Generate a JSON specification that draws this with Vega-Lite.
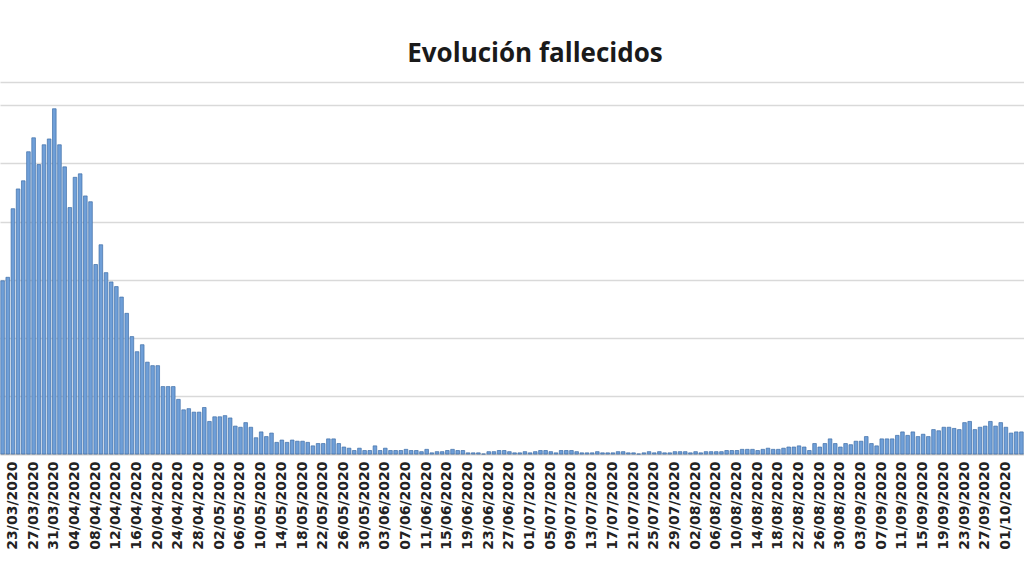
{
  "$schema": "https://vega.github.io/schema/vega-lite/v6.json",
  "width": 1024,
  "height": 372,
  "autosize": {"type": "none"},
  "padding": {"left": 0, "right": 0, "top": 82, "bottom": 122},
  "background": "white",
  "title": {"text": "Evolución fallecidos", "font": "Open Sans", "fontSize": 26, "fontWeight": "bold", "color": "#1a1a1a", "anchor": "middle", "dx": 23, "offset": 15},
  "data": {"values": [
    {"fecha": "21/03/2020", "fallecidos": 149}, {"fecha": "22/03/2020", "fallecidos": 152}, {"fecha": "23/03/2020", "fallecidos": 211}, {"fecha": "24/03/2020", "fallecidos": 228}, {"fecha": "25/03/2020", "fallecidos": 235}, {"fecha": "26/03/2020", "fallecidos": 260}, {"fecha": "27/03/2020", "fallecidos": 272}, {"fecha": "28/03/2020", "fallecidos": 249}, {"fecha": "29/03/2020", "fallecidos": 266}, {"fecha": "30/03/2020", "fallecidos": 271}, {"fecha": "31/03/2020", "fallecidos": 297},
    {"fecha": "01/04/2020", "fallecidos": 266}, {"fecha": "02/04/2020", "fallecidos": 247}, {"fecha": "03/04/2020", "fallecidos": 212}, {"fecha": "04/04/2020", "fallecidos": 238}, {"fecha": "05/04/2020", "fallecidos": 241}, {"fecha": "06/04/2020", "fallecidos": 222}, {"fecha": "07/04/2020", "fallecidos": 217}, {"fecha": "08/04/2020", "fallecidos": 163}, {"fecha": "09/04/2020", "fallecidos": 180}, {"fecha": "10/04/2020", "fallecidos": 156}, {"fecha": "11/04/2020", "fallecidos": 148}, {"fecha": "12/04/2020", "fallecidos": 144}, {"fecha": "13/04/2020", "fallecidos": 135}, {"fecha": "14/04/2020", "fallecidos": 121}, {"fecha": "15/04/2020", "fallecidos": 101}, {"fecha": "16/04/2020", "fallecidos": 88}, {"fecha": "17/04/2020", "fallecidos": 94}, {"fecha": "18/04/2020", "fallecidos": 79}, {"fecha": "19/04/2020", "fallecidos": 76}, {"fecha": "20/04/2020", "fallecidos": 76}, {"fecha": "21/04/2020", "fallecidos": 58}, {"fecha": "22/04/2020", "fallecidos": 58}, {"fecha": "23/04/2020", "fallecidos": 58}, {"fecha": "24/04/2020", "fallecidos": 47}, {"fecha": "25/04/2020", "fallecidos": 38}, {"fecha": "26/04/2020", "fallecidos": 39}, {"fecha": "27/04/2020", "fallecidos": 36}, {"fecha": "28/04/2020", "fallecidos": 36}, {"fecha": "29/04/2020", "fallecidos": 40}, {"fecha": "30/04/2020", "fallecidos": 28},
    {"fecha": "01/05/2020", "fallecidos": 32}, {"fecha": "02/05/2020", "fallecidos": 32}, {"fecha": "03/05/2020", "fallecidos": 33}, {"fecha": "04/05/2020", "fallecidos": 31}, {"fecha": "05/05/2020", "fallecidos": 24}, {"fecha": "06/05/2020", "fallecidos": 23}, {"fecha": "07/05/2020", "fallecidos": 27}, {"fecha": "08/05/2020", "fallecidos": 23}, {"fecha": "09/05/2020", "fallecidos": 14}, {"fecha": "10/05/2020", "fallecidos": 19}, {"fecha": "11/05/2020", "fallecidos": 15}, {"fecha": "12/05/2020", "fallecidos": 18}, {"fecha": "13/05/2020", "fallecidos": 10}, {"fecha": "14/05/2020", "fallecidos": 12}, {"fecha": "15/05/2020", "fallecidos": 10}, {"fecha": "16/05/2020", "fallecidos": 12}, {"fecha": "17/05/2020", "fallecidos": 11}, {"fecha": "18/05/2020", "fallecidos": 11}, {"fecha": "19/05/2020", "fallecidos": 10}, {"fecha": "20/05/2020", "fallecidos": 7}, {"fecha": "21/05/2020", "fallecidos": 9}, {"fecha": "22/05/2020", "fallecidos": 9}, {"fecha": "23/05/2020", "fallecidos": 13}, {"fecha": "24/05/2020", "fallecidos": 13}, {"fecha": "25/05/2020", "fallecidos": 9}, {"fecha": "26/05/2020", "fallecidos": 6}, {"fecha": "27/05/2020", "fallecidos": 5}, {"fecha": "28/05/2020", "fallecidos": 3}, {"fecha": "29/05/2020", "fallecidos": 5}, {"fecha": "30/05/2020", "fallecidos": 3}, {"fecha": "31/05/2020", "fallecidos": 3},
    {"fecha": "01/06/2020", "fallecidos": 7}, {"fecha": "02/06/2020", "fallecidos": 3}, {"fecha": "03/06/2020", "fallecidos": 5}, {"fecha": "04/06/2020", "fallecidos": 3}, {"fecha": "05/06/2020", "fallecidos": 3}, {"fecha": "06/06/2020", "fallecidos": 3}, {"fecha": "07/06/2020", "fallecidos": 4}, {"fecha": "08/06/2020", "fallecidos": 3}, {"fecha": "09/06/2020", "fallecidos": 3}, {"fecha": "10/06/2020", "fallecidos": 2}, {"fecha": "11/06/2020", "fallecidos": 4}, {"fecha": "12/06/2020", "fallecidos": 1}, {"fecha": "13/06/2020", "fallecidos": 2}, {"fecha": "14/06/2020", "fallecidos": 2}, {"fecha": "15/06/2020", "fallecidos": 3}, {"fecha": "16/06/2020", "fallecidos": 4}, {"fecha": "17/06/2020", "fallecidos": 3}, {"fecha": "18/06/2020", "fallecidos": 3}, {"fecha": "19/06/2020", "fallecidos": 1}, {"fecha": "20/06/2020", "fallecidos": 1}, {"fecha": "21/06/2020", "fallecidos": 1}, {"fecha": "22/06/2020", "fallecidos": 0}, {"fecha": "23/06/2020", "fallecidos": 2}, {"fecha": "24/06/2020", "fallecidos": 2}, {"fecha": "25/06/2020", "fallecidos": 3}, {"fecha": "26/06/2020", "fallecidos": 3}, {"fecha": "27/06/2020", "fallecidos": 2}, {"fecha": "28/06/2020", "fallecidos": 1}, {"fecha": "29/06/2020", "fallecidos": 1}, {"fecha": "30/06/2020", "fallecidos": 2},
    {"fecha": "01/07/2020", "fallecidos": 1}, {"fecha": "02/07/2020", "fallecidos": 2}, {"fecha": "03/07/2020", "fallecidos": 3}, {"fecha": "04/07/2020", "fallecidos": 3}, {"fecha": "05/07/2020", "fallecidos": 2}, {"fecha": "06/07/2020", "fallecidos": 1}, {"fecha": "07/07/2020", "fallecidos": 3}, {"fecha": "08/07/2020", "fallecidos": 3}, {"fecha": "09/07/2020", "fallecidos": 3}, {"fecha": "10/07/2020", "fallecidos": 2}, {"fecha": "11/07/2020", "fallecidos": 1}, {"fecha": "12/07/2020", "fallecidos": 1}, {"fecha": "13/07/2020", "fallecidos": 1}, {"fecha": "14/07/2020", "fallecidos": 2}, {"fecha": "15/07/2020", "fallecidos": 1}, {"fecha": "16/07/2020", "fallecidos": 1}, {"fecha": "17/07/2020", "fallecidos": 1}, {"fecha": "18/07/2020", "fallecidos": 2}, {"fecha": "19/07/2020", "fallecidos": 2}, {"fecha": "20/07/2020", "fallecidos": 1}, {"fecha": "21/07/2020", "fallecidos": 1}, {"fecha": "22/07/2020", "fallecidos": 0}, {"fecha": "23/07/2020", "fallecidos": 1}, {"fecha": "24/07/2020", "fallecidos": 2}, {"fecha": "25/07/2020", "fallecidos": 1}, {"fecha": "26/07/2020", "fallecidos": 2}, {"fecha": "27/07/2020", "fallecidos": 1}, {"fecha": "28/07/2020", "fallecidos": 1}, {"fecha": "29/07/2020", "fallecidos": 2}, {"fecha": "30/07/2020", "fallecidos": 2}, {"fecha": "31/07/2020", "fallecidos": 2},
    {"fecha": "01/08/2020", "fallecidos": 1}, {"fecha": "02/08/2020", "fallecidos": 2}, {"fecha": "03/08/2020", "fallecidos": 1}, {"fecha": "04/08/2020", "fallecidos": 2}, {"fecha": "05/08/2020", "fallecidos": 2}, {"fecha": "06/08/2020", "fallecidos": 2}, {"fecha": "07/08/2020", "fallecidos": 2}, {"fecha": "08/08/2020", "fallecidos": 3}, {"fecha": "09/08/2020", "fallecidos": 3}, {"fecha": "10/08/2020", "fallecidos": 3}, {"fecha": "11/08/2020", "fallecidos": 4}, {"fecha": "12/08/2020", "fallecidos": 4}, {"fecha": "13/08/2020", "fallecidos": 4}, {"fecha": "14/08/2020", "fallecidos": 3}, {"fecha": "15/08/2020", "fallecidos": 4}, {"fecha": "16/08/2020", "fallecidos": 5}, {"fecha": "17/08/2020", "fallecidos": 4}, {"fecha": "18/08/2020", "fallecidos": 4}, {"fecha": "19/08/2020", "fallecidos": 5}, {"fecha": "20/08/2020", "fallecidos": 6}, {"fecha": "21/08/2020", "fallecidos": 6}, {"fecha": "22/08/2020", "fallecidos": 7}, {"fecha": "23/08/2020", "fallecidos": 6}, {"fecha": "24/08/2020", "fallecidos": 3}, {"fecha": "25/08/2020", "fallecidos": 9}, {"fecha": "26/08/2020", "fallecidos": 6}, {"fecha": "27/08/2020", "fallecidos": 9}, {"fecha": "28/08/2020", "fallecidos": 13}, {"fecha": "29/08/2020", "fallecidos": 9}, {"fecha": "30/08/2020", "fallecidos": 6}, {"fecha": "31/08/2020", "fallecidos": 9},
    {"fecha": "01/09/2020", "fallecidos": 8}, {"fecha": "02/09/2020", "fallecidos": 11}, {"fecha": "03/09/2020", "fallecidos": 11}, {"fecha": "04/09/2020", "fallecidos": 15}, {"fecha": "05/09/2020", "fallecidos": 9}, {"fecha": "06/09/2020", "fallecidos": 7}, {"fecha": "07/09/2020", "fallecidos": 13}, {"fecha": "08/09/2020", "fallecidos": 13}, {"fecha": "09/09/2020", "fallecidos": 13}, {"fecha": "10/09/2020", "fallecidos": 16}, {"fecha": "11/09/2020", "fallecidos": 19}, {"fecha": "12/09/2020", "fallecidos": 16}, {"fecha": "13/09/2020", "fallecidos": 19}, {"fecha": "14/09/2020", "fallecidos": 15}, {"fecha": "15/09/2020", "fallecidos": 17}, {"fecha": "16/09/2020", "fallecidos": 15}, {"fecha": "17/09/2020", "fallecidos": 21}, {"fecha": "18/09/2020", "fallecidos": 20}, {"fecha": "19/09/2020", "fallecidos": 23}, {"fecha": "20/09/2020", "fallecidos": 23}, {"fecha": "21/09/2020", "fallecidos": 22}, {"fecha": "22/09/2020", "fallecidos": 21}, {"fecha": "23/09/2020", "fallecidos": 27}, {"fecha": "24/09/2020", "fallecidos": 28}, {"fecha": "25/09/2020", "fallecidos": 21}, {"fecha": "26/09/2020", "fallecidos": 23}, {"fecha": "27/09/2020", "fallecidos": 24}, {"fecha": "28/09/2020", "fallecidos": 28}, {"fecha": "29/09/2020", "fallecidos": 24}, {"fecha": "30/09/2020", "fallecidos": 27},
    {"fecha": "01/10/2020", "fallecidos": 23}, {"fecha": "02/10/2020", "fallecidos": 18}, {"fecha": "03/10/2020", "fallecidos": 19}, {"fecha": "04/10/2020", "fallecidos": 19}
  ]},
  "mark": {"type": "bar", "fill": "#6f9fd8", "stroke": "#3f6fa8", "strokeWidth": 0.7},
  "encoding": {
    "x": {
      "field": "fecha", "type": "ordinal", "sort": null,
      "scale": {"paddingInner": 0.3, "paddingOuter": 0.15},
      "axis": {
        "title": null,
        "values": ["23/03/2020", "27/03/2020", "31/03/2020", "04/04/2020", "08/04/2020", "12/04/2020", "16/04/2020", "20/04/2020", "24/04/2020", "28/04/2020", "02/05/2020", "06/05/2020", "10/05/2020", "14/05/2020", "18/05/2020", "22/05/2020", "26/05/2020", "30/05/2020", "03/06/2020", "07/06/2020", "11/06/2020", "15/06/2020", "19/06/2020", "23/06/2020", "27/06/2020", "01/07/2020", "05/07/2020", "09/07/2020", "13/07/2020", "17/07/2020", "21/07/2020", "25/07/2020", "29/07/2020", "02/08/2020", "06/08/2020", "10/08/2020", "14/08/2020", "18/08/2020", "22/08/2020", "26/08/2020", "30/08/2020", "03/09/2020", "07/09/2020", "11/09/2020", "15/09/2020", "19/09/2020", "23/09/2020", "27/09/2020", "01/10/2020"],
        "labelAngle": -90,
        "labelFont": "DejaVu Sans",
        "labelFontSize": 14,
        "labelFontWeight": "bold",
        "labelColor": "#222222",
        "labelOverlap": false,
        "labelPadding": 7,
        "ticks": false,
        "domainColor": "#bfbfbf",
        "domainWidth": 1.5,
        "grid": false
      }
    },
    "y": {
      "field": "fallecidos", "type": "quantitative",
      "scale": {"domain": [0, 320], "nice": false},
      "axis": {"title": null, "labels": false, "ticks": false, "domain": false, "values": [0, 50, 100, 150, 200, 250, 300, 320], "gridColor": "#d9d9d9", "gridWidth": 1.5}
    }
  },
  "config": {"view": {"stroke": null}}
}
